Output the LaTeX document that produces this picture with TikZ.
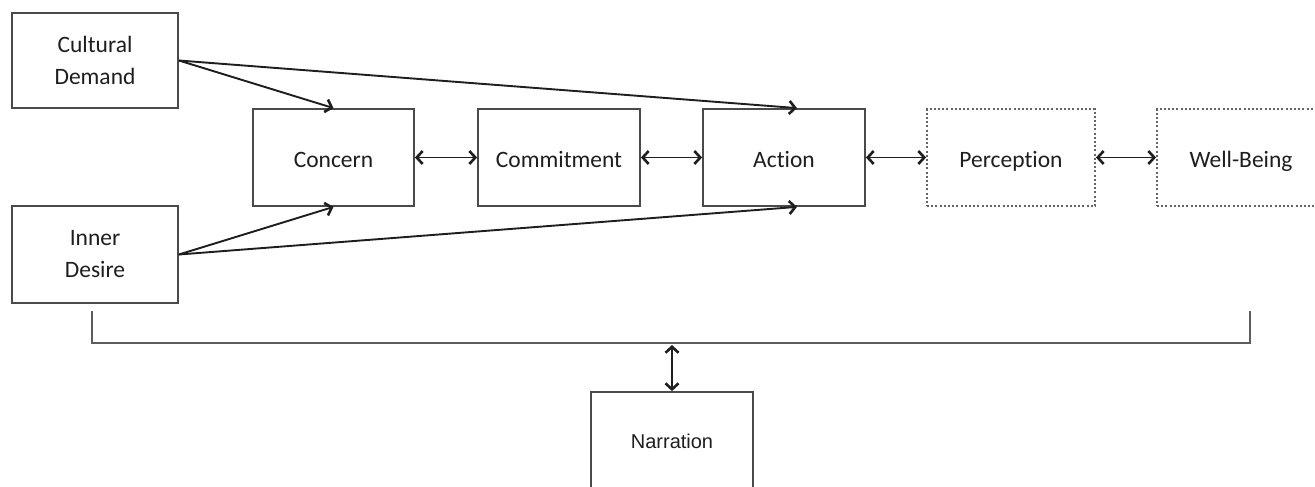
\documentclass[tikz,border=0pt]{standalone}
\usepackage{fontspec}
\setmainfont{Carlito}[Ligatures=NoCommon]
\newfontfamily\narrfont{Liberation Sans}
\usetikzlibrary{arrows.meta,calc}
\definecolor{linec}{HTML}{4A4A4A}
\definecolor{textc}{HTML}{1E1E1E}
\tikzset{
  box/.style={draw=linec, line width=1.8pt, rectangle, minimum width=162pt, minimum height=97pt, inner sep=0pt, text=textc, font=\fontsize{23.5}{32}\selectfont, align=center},
  single/.style={text height=20pt, text depth=1pt},
  dotbox/.style={box, draw=linec!85, dash pattern=on 2pt off 2.2pt, line width=1.8pt},
  conn/.style={draw=textc, line width=1.9pt, -{Straight Barb[length=6pt,width=13pt,line width=2.6pt]}},
  dconn/.style={draw=textc, line width=1.9pt, {Straight Barb[length=6pt,width=13pt,line width=2.6pt]}-{Straight Barb[length=6pt,width=13pt,line width=2.6pt]}},
  brack/.style={draw=linec!90, line width=2pt}
}
\begin{document}
\begin{tikzpicture}[x=1pt,y=-1pt]
\useasboundingbox (0,0) rectangle (1315,487);
\clip (0,0) rectangle (1315,487);
\node[box, minimum width=166pt, minimum height=95pt] (cd) at (95,60.5) {Cultural\\Demand};
\node[box, minimum width=166pt] (id) at (95,254.5) {Inner\\Desire};
\node[box, single, minimum width=161pt] (concern) at (333.5,157.5) {Concern};
\node[box, single] (commit) at (559,157.5) {Commitment};
\node[box, single] (action) at (784,157.5) {Action};
\node[dotbox, single, minimum width=168pt] (perc) at (1011,157.5) {Perception};
\node[dotbox, single, minimum width=168pt] (well) at (1241,157.5) {Well-Being};
\node[box, font=\narrfont\fontsize{20}{24}\selectfont, minimum width=162pt, minimum height=98pt] (narr) at (672,441) {Narration};

\coordinate (acttop) at ($(action.north)+(13,0)$);
\coordinate (actbot) at ($(action.south)+(13,0)$);
\draw[conn] (cd.east) -- (concern.north);
\draw[conn] (cd.east) -- (acttop);
\draw[conn] (id.east) -- (concern.south);
\draw[conn] (id.east) -- (actbot);

\draw[dconn] (concern.east) -- (commit.west);
\draw[dconn] (commit.east) -- (action.west);
\draw[dconn] (action.east) -- (perc.west);
\draw[dconn] (perc.east) -- (well.west);

\coordinate (bl) at (92,311);
\coordinate (br) at (1250,311);
\coordinate (bmid) at (672,343);
\draw[brack] (bl) |- (bmid) -| (br);
\coordinate (barr) at (672,345);
\draw[dconn] (barr) -- (narr.north);
\end{tikzpicture}
\end{document}
